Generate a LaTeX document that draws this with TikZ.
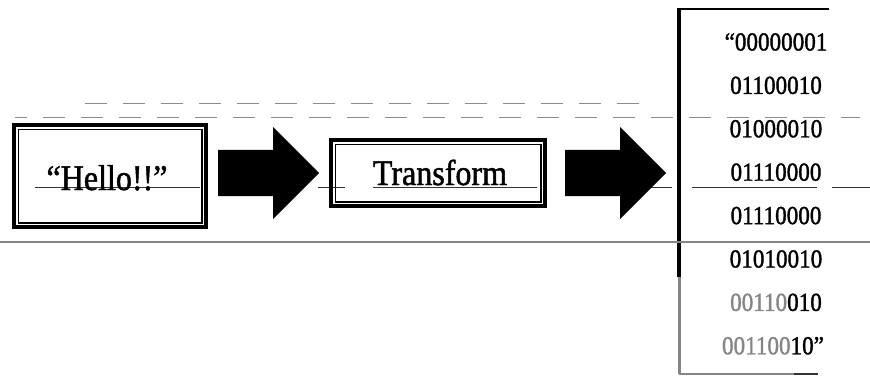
\documentclass[tikz,border=0pt]{standalone}
\usepackage{fontspec}
\setmainfont{Liberation Serif}
\newfontfamily\sq[FakeStretch=0.89,FakeBold=1.3]{Liberation Serif}
\usetikzlibrary{shapes.arrows}
\definecolor{scangray}{HTML}{858585}
\begin{document}
\begin{tikzpicture}[x=1pt,y=-1pt,
  framebox/.style={draw, line width=3.8pt, inner sep=0pt},
  innerframe/.style={line width=1.2pt},
  blockarrow/.style={single arrow, fill=black, draw=none, inner sep=0pt,
    text height=23pt, text depth=23pt, text width=0pt,
    single arrow head extend=23pt, single arrow tip angle=90,
    single arrow head indent=0pt, minimum height=101pt, anchor=tail},
  bigtxt/.style={font=\sq\fontsize{36}{40}\selectfont, anchor=base, inner sep=0pt},
  bintxt/.style={font=\sq\fontsize{26}{30}\selectfont, anchor=base, inner sep=0pt},
  scanline/.style={black!45, line width=0.8pt, dash pattern=on 22pt off 16pt},
  baseline/.style={black!80, line width=0.9pt},
  rule/.style={scangray, line width=2pt}
]
\useasboundingbox (0,0) rectangle (870,376);

% faint ruled lines of the scanned page
\coordinate (s1a) at (85,103);  \coordinate (s1b) at (655,103);
\coordinate (s2a) at (15,117);  \coordinate (s2b) at (860,117);
\draw[scanline] (s1a) -- (s1b);
\draw[scanline, dash phase=10pt] (s2a) -- (s2b);

% line under the texts
\coordinate (b1) at (35,187);  \coordinate (b2) at (200,187);
\coordinate (b3) at (318,187); \coordinate (b4) at (345,187);
\coordinate (b5) at (373,187); \coordinate (b6) at (537,187);
\coordinate (b7) at (620,187); \coordinate (b8) at (672,187);
\coordinate (b9) at (692,187); \coordinate (b10) at (817,187);
\coordinate (b11) at (832,187); \coordinate (b12) at (870,187);
\draw[baseline] (b1) -- (b2) (b3) -- (b4) (b5) -- (b6) (b7) -- (b8)
                (b9) -- (b10) (b11) -- (b12);

% Hello box
\node[framebox, minimum width=192pt, minimum height=102pt] (hello) at (110,176) {};
\draw[innerframe] ([shift={(6,6)}]hello.north west) rectangle ([shift={(-6,-6)}]hello.south east);
\node[bigtxt] (hellotxt) at (107,190) {“Hello!!”};

% first arrow
\node[blockarrow] (arr1) at (218,173) {};

% Transform box
\node[framebox, minimum width=214pt, minimum height=66pt] (trans) at (438,173) {};
\draw[innerframe] ([shift={(6,6)}]trans.north west) rectangle ([shift={(-6,-6)}]trans.south east);
\node[bigtxt] (transtxt) at (440,185) {Transform};

% second arrow
\node[blockarrow] (arr2) at (565,173) {};

% binary output box
\node[inner sep=0pt, minimum width=191pt, minimum height=365pt, anchor=north west] (bin) at (679,9) {};
\draw[line width=2.5pt] (bin.north west) -- ([shift={(150,0)}]bin.north west);
\draw[line width=4pt] ([shift={(0,-1)}]bin.north west) -- ([shift={(0,268)}]bin.north west);
\draw[scangray, line width=3pt] ([shift={(0,268)}]bin.north west) -- (bin.south west);
\draw[scangray, line width=2pt] (bin.south west) -- ([shift={(115,0)}]bin.south west);
\draw[black!80, line width=2pt] ([shift={(115,0)}]bin.south west) -- ([shift={(139,0)}]bin.south west);

\node[bintxt] (r1) at (776,50.5) {“00000001};
\node[bintxt] (r2) at (776,93.9) {01100010};
\node[bintxt] (r3) at (776,137.3) {01000010};
\node[bintxt] (r4) at (776,180.7) {01110000};
\node[bintxt] (r5) at (776,224.1) {01110000};
\node[bintxt] (r6) at (776,267.5) {01010010};
\node[bintxt] (r7) at (776,310.9) {\textcolor{scangray}{00110}010};
\node[bintxt] (r8) at (773,354.3) {\textcolor{scangray}{001100}10”};

% horizontal rule across the page
\coordinate (gl) at (0,242); \coordinate (gr) at (870,242);
\draw[rule] (gl) -- (gr);
\end{tikzpicture}
\end{document}
